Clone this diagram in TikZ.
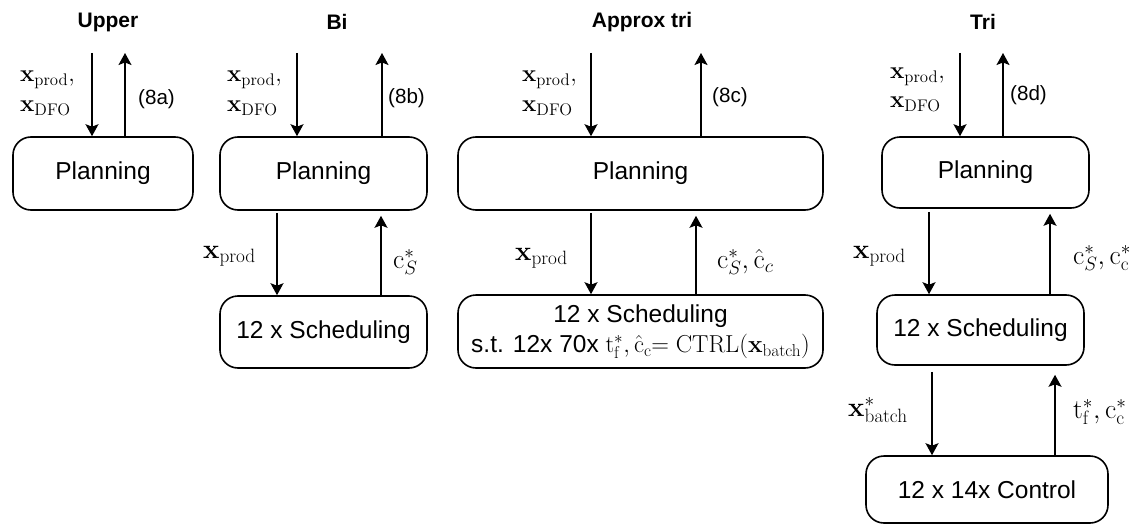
\documentclass[tikz,border=0pt]{standalone}
\usepackage{fix-cm}
\usepackage[no-math]{fontspec}
\setmainfont{Liberation Sans}
\usetikzlibrary{arrows.meta}
\tikzset{
  blk/.style={draw, line width=1.6pt, rounded corners=18pt, font=\fontsize{24.5}{29}\selectfont, align=center, inner sep=0pt},
  arr/.style={line width=1.5pt, -{Stealth[length=12pt,width=13pt,inset=2.5pt]}},
  ttl/.style={font=\fontsize{21}{25}\selectfont\bfseries},
  lbl/.style={font=\fontsize{20.6}{25}\selectfont, inner sep=0pt, anchor=west},
  mlbl/.style={font=\fontsize{24}{28}\selectfont, inner sep=0pt, anchor=west},
  mlblL/.style={font=\fontsize{27.5}{32}\selectfont, inner sep=0pt, anchor=west},
}
\begin{document}
\begin{tikzpicture}[x=1pt,y=-1pt]
\useasboundingbox (0,0) rectangle (1140,527);
% titles
\node[ttl] (t1) at (108,22) {Upper};
\node[ttl] (t2) at (337,22) {Bi};
\node[ttl] (t3) at (642,22) {Approx tri};
\node[ttl] (t4) at (983,22) {Tri};
% boxes
\node[blk, minimum width=180pt, minimum height=73pt] (pA) at (103,173.5) {Planning};
\node[blk, minimum width=207pt, minimum height=73pt] (pB) at (323.5,173.5) {Planning};
\node[blk, minimum width=207pt, minimum height=72pt] (sB) at (323.5,332) {12 x Scheduling};
\node[blk, minimum width=365pt, minimum height=73pt] (pC) at (640.5,173.5) {Planning};
\node[blk, minimum width=365pt, minimum height=73pt] (sC) at (640.5,331.5) {12 x Scheduling\\[1pt] s.t. 12x 70x $\mathrm{t}^*_\mathrm{f},\hat{\mathrm{c}}_\mathrm{c}{=}\ \mathrm{CTRL}(\mathbf{x}_\mathrm{batch})$};
\node[blk, minimum width=207pt, minimum height=71pt] (pD) at (985.5,172.5) {Planning};
\node[blk, minimum width=207pt, minimum height=70pt] (sD) at (980.5,330) {12 x Scheduling};
\node[blk, minimum width=242pt, minimum height=67pt] (cD) at (987,489.5) {12 x 14x Control};
% top free ends
\coordinate (inA) at (92,53);  \coordinate (outA) at (125,53);
\coordinate (inB) at (297,53); \coordinate (outB) at (382,53);
\coordinate (inC) at (591,53); \coordinate (outC) at (701,53);
\coordinate (inD) at (960,53); \coordinate (outD) at (1003,53);
\draw[arr] (inA) -- (inA |- pA.north);
\draw[arr] (outA |- pA.north) -- (outA);
\draw[arr] (inB) -- (inB |- pB.north);
\draw[arr] (outB |- pB.north) -- (outB);
\draw[arr] (inC) -- (inC |- pC.north);
\draw[arr] (outC |- pC.north) -- (outC);
\draw[arr] (inD) -- (inD |- pD.north);
\draw[arr] (outD |- pD.north) -- (outD);
% between levels
\draw[arr, shorten <=2pt] (pB.south -| 277,0) -- (sB.north -| 277,0);
\draw[arr, shorten >=5pt] (sB.north -| 381,0) -- (pB.south -| 381,0);
\draw[arr, shorten <=2pt] (pC.south -| 591,0) -- (sC.north -| 591,0);
\draw[arr, shorten >=5pt] (sC.north -| 696,0) -- (pC.south -| 696,0);
\draw[arr, shorten <=3pt] (pD.south -| 929,0) -- (sD.north -| 929,0);
\draw[arr, shorten >=5pt] (sD.north -| 1050,0) -- (pD.south -| 1050,0);
\draw[arr, shorten <=6pt] (sD.south -| 932,0) -- (cD.north -| 932,0);
\draw[arr, shorten >=9pt] (cD.north -| 1055,0) -- (sD.south -| 1055,0);
% labels col A
\node[mlbl] (lA1) at (20,80) {$\mathbf{x}_\mathrm{prod},$};
\node[mlbl] (lA2) at (20,108) {$\mathbf{x}_\mathrm{DFO}$};
\node[lbl] (lA3) at (138,99) {(8a)};
% col B
\node[mlbl] (lB1) at (227,80) {$\mathbf{x}_\mathrm{prod},$};
\node[mlbl] (lB2) at (227,108) {$\mathbf{x}_\mathrm{DFO}$};
\node[lbl] (lB3) at (388,98) {(8b)};
\node[mlblL] (lB4) at (203,256) {$\mathbf{x}_\mathrm{prod}$};
\node[mlblL] (lB5) at (393,262) {$\mathrm{c}^*_S$};
% col C
\node[mlbl] (lC1) at (522,80) {$\mathbf{x}_\mathrm{prod},$};
\node[mlbl] (lC2) at (522,108) {$\mathbf{x}_\mathrm{DFO}$};
\node[lbl] (lC3) at (712,97) {(8c)};
\node[mlblL] (lC4) at (515,258) {$\mathbf{x}_\mathrm{prod}$};
\node[mlblL] (lC5) at (717,262) {$\mathrm{c}^*_S,\hat{\mathrm{c}}_c$};
% col D
\node[mlbl] (lD1) at (890,77) {$\mathbf{x}_\mathrm{prod},$};
\node[mlbl] (lD2) at (890,104) {$\mathbf{x}_\mathrm{DFO}$};
\node[lbl] (lD3) at (1010,95) {(8d)};
\node[mlblL] (lD4) at (853,256) {$\mathbf{x}_\mathrm{prod}$};
\node[mlblL] (lD5) at (1073,258) {$\mathrm{c}^*_S,\mathrm{c}^*_\mathrm{c}$};
\node[mlblL] (lD6) at (848,410) {$\mathbf{x}^*_\mathrm{batch}$};
\node[mlblL] (lD7) at (1073,412) {$\mathrm{t}^*_\mathrm{f},\mathrm{c}^*_\mathrm{c}$};
\end{tikzpicture}
\end{document}
